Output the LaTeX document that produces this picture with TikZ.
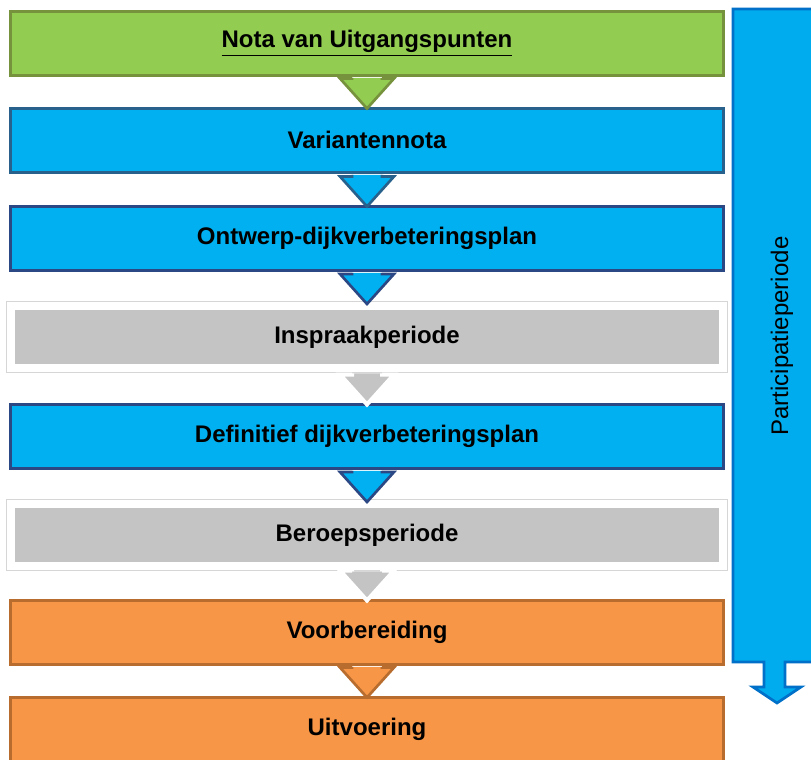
\documentclass[tikz,border=0pt]{standalone}
\usepackage{fontspec}
\setmainfont{Liberation Sans}
\usetikzlibrary{calc,shadows}

\definecolor{greenfill}{RGB}{146,204,80}
\definecolor{greenline}{RGB}{118,146,60}
\definecolor{bluefill}{RGB}{0,176,240}
\definecolor{blueline}{RGB}{40,98,140}
\definecolor{navyline}{RGB}{44,72,132}
\definecolor{grayfill}{RGB}{196,196,196}
\definecolor{grayrim}{RGB}{214,214,214}
\definecolor{orangefill}{RGB}{247,150,70}
\definecolor{orangeline}{RGB}{184,108,46}
\definecolor{colfill}{RGB}{0,172,238}
\definecolor{colline}{RGB}{0,112,200}

% block arrow between two stacked stages: filled body, outline open at the top
\newcommand\stagearrow[3]{%
  \path[#3, draw=none] let \p1=(#1.south), \p2=(#2.north) in
    (\x1-11.25pt,\y1-1.1pt) -- (\x1-11.25pt,\y2+21pt) -- (\x1-20.25pt,\y2+21pt)
    -- (\x1,\y2-1.5pt) -- (\x1+20.25pt,\y2+21pt) -- (\x1+11.25pt,\y2+21pt)
    -- (\x1+11.25pt,\y1-1.1pt) -- cycle;
  \path[#3, fill=none] let \p1=(#1.south), \p2=(#2.north) in
    (\x1-11.25pt,\y1-1.1pt) -- (\x1-11.25pt,\y2+21pt) -- (\x1-20.25pt,\y2+21pt)
    -- (\x1,\y2-1.5pt) -- (\x1+20.25pt,\y2+21pt) -- (\x1+11.25pt,\y2+21pt)
    -- (\x1+11.25pt,\y1-1.1pt);}

\tikzset{
  stage/.style={rectangle, minimum width=534.75pt, minimum height=48pt,
    line width=2.25pt, inner sep=0pt,
    font=\fontsize{18}{21.6}\selectfont\bfseries},
  greenstage/.style={stage, fill=greenfill, draw=greenline},
  bluestage/.style={stage, fill=bluefill, draw=blueline},
  navystage/.style={stage, fill=bluefill, draw=navyline},
  graystage/.style={stage, minimum width=534pt, minimum height=46.5pt,
    fill=grayfill, draw=white, line width=6pt,
    preaction={draw=grayrim, line width=7.5pt,
      drop shadow={opacity=0.18, shadow xshift=0pt, shadow yshift=-2pt}}},
  orangestage/.style={stage, fill=orangefill, draw=orangeline},
  greenarrow/.style={fill=greenfill, draw=greenline, line width=2pt, line join=miter},
  bluearrow/.style={fill=bluefill, draw=blueline, line width=2pt, line join=miter},
  navyarrow/.style={fill=bluefill, draw=navyline, line width=2pt, line join=miter},
  grayarrow/.style={fill=grayfill, draw=white, line width=3pt, line join=miter},
  orangearrow/.style={fill=orangefill, draw=orangeline, line width=2pt, line join=miter},
}

\begin{document}
\begin{tikzpicture}[x=0.75pt,y=-0.75pt]
  \useasboundingbox (0,0) rectangle (811,760);
  \clip (0,0) rectangle (811,760);
  \fill[white] (0,0) rectangle (811,760);

  % participation column with its downward arrow
  \path[fill=colfill, draw=colline, line width=2pt, line join=miter]
    (733,9) -- (830,9) -- (830,662) -- (785,662) -- (785,687) -- (801,687)
    -- (777,703) -- (753,687) -- (764,687) -- (764,662) -- (733,662) -- cycle;
  \node[rotate=90, font=\fontsize{18}{21.6}\selectfont] (part) at (782,336)
    {Participatieperiode};

  % stages
  \node[greenstage]  (nota) at (367,43)  {\underline{Nota van Uitgangspunten}};
  \node[bluestage]   (var)  at (367,140) {Variantennota};
  \node[navystage]   (ont)  at (367,238) {Ontwerp-dijkverbeteringsplan};
  \node[graystage]   (insp) at (367,337) {Inspraakperiode};
  \node[navystage]   (def)  at (367,436) {Definitief dijkverbeteringsplan};
  \node[graystage]   (ber)  at (367,535) {Beroepsperiode};
  \node[orangestage] (voor) at (367,632) {Voorbereiding};
  \node[orangestage] (uit)  at (367,729) {Uitvoering};

  % flow between stages
  \stagearrow{nota}{var}{greenarrow}
  \stagearrow{var}{ont}{bluearrow}
  \stagearrow{ont}{insp}{navyarrow}
  \stagearrow{insp}{def}{grayarrow}
  \stagearrow{def}{ber}{navyarrow}
  \stagearrow{ber}{voor}{grayarrow}
  \stagearrow{voor}{uit}{orangearrow}
\end{tikzpicture}
\end{document}
